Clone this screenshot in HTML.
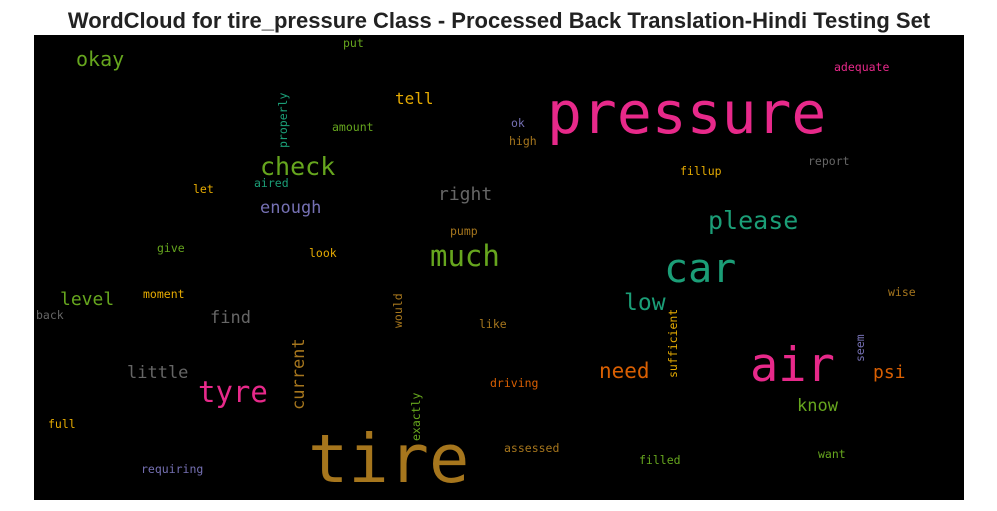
<!DOCTYPE html>
<html><head><meta charset="utf-8"><style>
html,body{margin:0;padding:0;background:#fff;width:997px;height:511px;overflow:hidden}
svg text.w{font-family:"DejaVu Sans Mono","Liberation Mono",monospace}
</style></head><body>
<svg width="997" height="511">
<text x="499" y="28" text-anchor="middle" font-family="Liberation Sans, sans-serif" font-weight="bold" font-size="22" fill="#222">WordCloud for tire_pressure Class - Processed Back Translation-Hindi Testing Set</text>
<rect x="34" y="35" width="930" height="465" fill="#000"/>
<g id="words"></g>
</svg>
<script>
const words=["pressure","tire","air","car","much","check","tyre","please","low","need","psi","know","okay","tell","right","enough","level","find","little","current","adequate","report","fillup","ok","high","amount","put","properly","aired","let","give","look","pump","moment","back","would","like","sufficient","wise","seem","driving","exactly","full","assessed","filled","want","requiring"];
const sizes=[58,67,47,40,29,25,29,25,23,21,18,17,20,16,18,17,18,17,17,17,11.5,11.5,11.5,11.5,11.5,11.5,11.5,11.5,11.5,11.5,11.5,11.5,11.5,11.5,11.5,11.5,11.5,11.5,11.5,11.5,11.5,11.5,11.5,11.5,11.5,11.5,11.5];
const colors=["#e7298a","#a6761d","#e7298a","#1b9e77","#66a61e","#66a61e","#e7298a","#1b9e77","#1b9e77","#d95f02","#d95f02","#66a61e","#66a61e","#e6ab02","#666666","#7570b3","#66a61e","#666666","#666666","#a6761d","#e7298a","#666666","#e6ab02","#7570b3","#a6761d","#66a61e","#66a61e","#1b9e77","#1b9e77","#e6ab02","#66a61e","#e6ab02","#a6761d","#e6ab02","#666666","#a6761d","#a6761d","#e6ab02","#a6761d","#7570b3","#d95f02","#66a61e","#e6ab02","#a6761d","#66a61e","#66a61e","#7570b3"];
const xs=[547,308,750,664,430,260,198,708,624,599,873,797,76,395,438,260,60,210,127,304,834,808,680,511,509,332,343,287,254,193,157,309,450,143,36,402,479,677,888,864,490,420,48,504,639,818,141];
const ys=[133,482,381,282,266,175,402,229,310,378,378,411,66,104,200,213,305,323,378,410,71,165,175,127,145,131,47,148,187,193,252,257,235,298,319,328,328,378,296,362,387,441,428,452,464,458,473];
const vert=[0,0,0,0,0,0,0,0,0,0,0,0,0,0,0,0,0,0,0,1,0,0,0,0,0,0,0,1,0,0,0,0,0,0,0,1,0,1,0,1,0,1,0,0,0,0,0];
const g=document.getElementById('words');
words.forEach((w,i)=>{
  const t=document.createElementNS('http://www.w3.org/2000/svg','text');
  t.setAttribute('class','w');
  t.setAttribute('x',xs[i]);t.setAttribute('y',ys[i]);
  t.setAttribute('font-size',sizes[i]);t.setAttribute('fill',colors[i]);
  if(vert[i])t.setAttribute('transform','rotate(-90 '+xs[i]+' '+ys[i]+')');
  t.textContent=w;
  
  
  g.appendChild(t);
});
</script>
</body></html>
